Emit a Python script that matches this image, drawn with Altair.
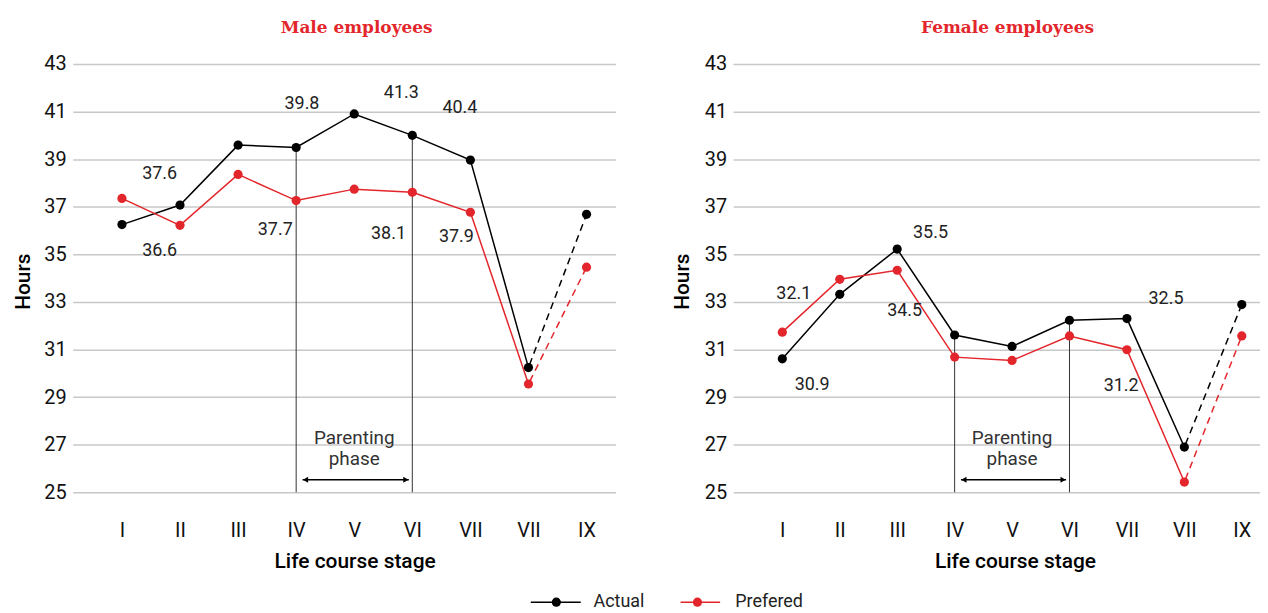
import altair as alt
import pandas as pd

# ---------------- data ----------------
stages = ["I", "II", "III", "IV", "V", "VI", "VII", "VII", "IX"]
series_names = ["Actual", "Prefered"]

male_actual = [36.25, 37.07, 39.59, 39.49, 40.90, 40.00, 38.96, 30.24, 36.68]
male_pref = [37.35, 36.22, 38.36, 37.26, 37.74, 37.61, 36.77, 29.55, 34.46]
female_actual = [30.61, 33.32, 35.22, 31.61, 31.13, 32.23, 32.30, 26.90, 32.89]
female_pref = [31.73, 33.95, 34.33, 30.68, 30.54, 31.57, 30.99, 25.43, 31.57]

male_labels = ["37.6", "36.6", "39.8", "37.7", "41.3", "38.1", "40.4", "37.9"]
male_label_x = [1.65, 1.65, 4.10, 3.64, 5.81, 5.59, 6.82, 6.76]
male_label_y = [38.39, 35.13, 41.33, 36.04, 41.79, 35.87, 41.14, 35.73]

female_labels = ["35.5", "32.1", "34.5", "30.9", "32.5", "31.2"]
female_label_x = [3.58, 1.20, 3.13, 1.52, 7.68, 6.90]
female_label_y = [35.91, 33.33, 32.63, 29.51, 33.12, 29.48]

phase_text = ["Parenting", "phase"]
phase_text_y = [27.04, 26.13]
phase_start, phase_end = 4, 6          # stages IV and VI
arrow_x = [4.11, 5.94]
arrow_y = 25.53

# legend layout (in the left panel's stage / hours units)
legend_line_x = [8.04, 10.62]
legend_line_x2 = [8.90, 11.30]
legend_dot_x = [8.48, 10.91]
legend_text_x = [9.12, 11.56]
legend_y = 20.38

y_ticks = list(range(25, 44, 2))

RED = "#e3262b"
FONT = "Roboto"

label_expr = "[" + ",".join("'%s'" % s for s in stages) + "][datum.value - 1]"


def panel(title, actual, pref, lab_text, lab_x, lab_y, width, x_min, x_max,
          title_dx, axis_title_x, yt_x, show_legend):
    rows = []
    for name, vals in zip(series_names, [actual, pref]):
        for i, v in enumerate(vals):
            rows.append({"series": name, "stage": i + 1, "hours": v})
    df = pd.DataFrame(rows)
    solid = df[df["stage"] <= 8]
    dashed = df[df["stage"] >= 8]

    xscale = alt.Scale(domain=[x_min, x_max], nice=False, zero=False)
    yscale = alt.Scale(domain=[25, 43], nice=False, zero=False)
    xaxis = alt.Axis(values=list(range(1, 10)), labelExpr=label_expr, grid=False,
                     domain=False, ticks=False, labelFont=FONT, labelFontSize=20,
                     labelColor="#111", labelPadding=28.5,
                     title="Life course stage", titleFont=FONT, titleFontSize=21,
                     titleFontWeight=500, titleColor="#000", titleX=axis_title_x,
                     titleY=75.5, titleBaseline="alphabetic", titleAlign="center")
    yaxis = alt.Axis(values=y_ticks, grid=True, gridColor="#c8c8c8", gridWidth=1.5,
                     domain=False, ticks=False, labelFont=FONT, labelFontSize=20,
                     labelColor="#111", labelPadding=6.5,
                     title="Hours", titleFont=FONT, titleFontSize=21, titleFontWeight=500,
                     titleColor="#000", titleAngle=270, titleAlign="center",
                     titleBaseline="alphabetic", titleX=yt_x, titleY=218)

    def X(field):
        return alt.X(field, type="quantitative", scale=xscale, axis=xaxis)

    def Y(field):
        return alt.Y(field, type="quantitative", scale=yscale, axis=yaxis)

    cscale = alt.Scale(domain=series_names, range=["#000000", RED])
    stroke = alt.Stroke("series:N", scale=cscale, legend=None)
    fill = alt.Fill("series:N", scale=cscale, legend=None)

    vdf = pd.DataFrame({"stage": [phase_start, phase_end], "base": [25, 25],
                        "top": [actual[phase_start - 1], actual[phase_end - 1]]})
    vlines = alt.Chart(vdf).mark_rule(color="#333333", strokeWidth=1).encode(
        x=X("stage"), y=Y("base"), y2="top")

    lines = alt.Chart(solid).mark_line(strokeWidth=1.5).encode(
        x=X("stage"), y=Y("hours"), stroke=stroke, detail="series:N")
    dlines = alt.Chart(dashed).mark_line(strokeWidth=1.5, strokeDash=[7, 5],
                                         strokeDashOffset=-3).encode(
        x=X("stage"), y=Y("hours"), stroke=stroke, detail="series:N")
    points = alt.Chart(df).mark_point(filled=True, size=85, opacity=1).encode(
        x=X("stage"), y=Y("hours"), fill=fill)

    ldf = pd.DataFrame({"text": lab_text, "lx": lab_x, "ly": lab_y})
    labels = alt.Chart(ldf).mark_text(font=FONT, fontSize=18, color="#222",
                                      baseline="middle").encode(
        x=X("lx"), y=Y("ly"), text="text:N")

    pdf = pd.DataFrame({"text": phase_text, "px": [5, 5], "py": phase_text_y})
    ptext = alt.Chart(pdf).mark_text(font=FONT, fontSize=19, color="#333",
                                     baseline="alphabetic").encode(
        x=X("px"), y=Y("py"), text="text:N")

    adf = pd.DataFrame({"x1": [arrow_x[0]], "x2": [arrow_x[1]], "ay": [arrow_y]})
    arrow = alt.Chart(adf).mark_rule(color="#000", strokeWidth=1.5).encode(
        x=X("x1"), x2="x2", y=Y("ay"))
    head_l = alt.Chart(adf).mark_point(shape="triangle-left", filled=True, size=36,
                                       opacity=1, color="#000", xOffset=3).encode(
        x=X("x1"), y=Y("ay"))
    head_r = alt.Chart(adf).mark_point(shape="triangle-right", filled=True, size=36,
                                       opacity=1, color="#000", xOffset=-3).encode(
        x=X("x2"), y=Y("ay"))

    layers = [vlines, lines, dlines, points, labels, ptext, arrow, head_l, head_r]

    if show_legend:
        gdf = pd.DataFrame({"series": series_names, "gx": legend_line_x,
                            "gx2": legend_line_x2, "gd": legend_dot_x,
                            "gt": legend_text_x, "gy": [legend_y, legend_y]})
        g_line = alt.Chart(gdf).mark_rule(strokeWidth=1.5).encode(
            x=X("gx"), x2="gx2", y=Y("gy"), stroke=stroke)
        g_dot = alt.Chart(gdf).mark_point(filled=True, size=85, opacity=1).encode(
            x=X("gd"), y=Y("gy"), fill=fill)
        g_text = alt.Chart(gdf).mark_text(font=FONT, fontSize=18, color="#222",
                                          align="left", baseline="middle").encode(
            x=X("gt"), y=Y("gy"), text="series:N")
        layers += [g_line, g_dot, g_text]

    return alt.layer(*layers).properties(
        width=width, height=430,
        title=alt.TitleParams(title, font="DejaVu Serif", fontSize=17, fontWeight="bold",
                              color=RED, dx=title_dx, offset=17, anchor="middle"))


left = panel("Male employees", male_actual, male_pref, male_labels, male_label_x,
             male_label_y, 545, 0.153, 9.50, 12.5, 283, -43.7, True)
right = panel("Female employees", female_actual, female_pref, female_labels,
              female_label_x, female_label_y, 529, 0.143, 9.317, 11, 283, -44.3, False)

chart = alt.hconcat(left, right, spacing=118, bounds="flush").properties(
    padding={"left": 4, "top": 10, "right": 0, "bottom": 0}
).configure_view(stroke=None)

chart.save("out.html", embed_options={"renderer": "svg", "actions": False})
